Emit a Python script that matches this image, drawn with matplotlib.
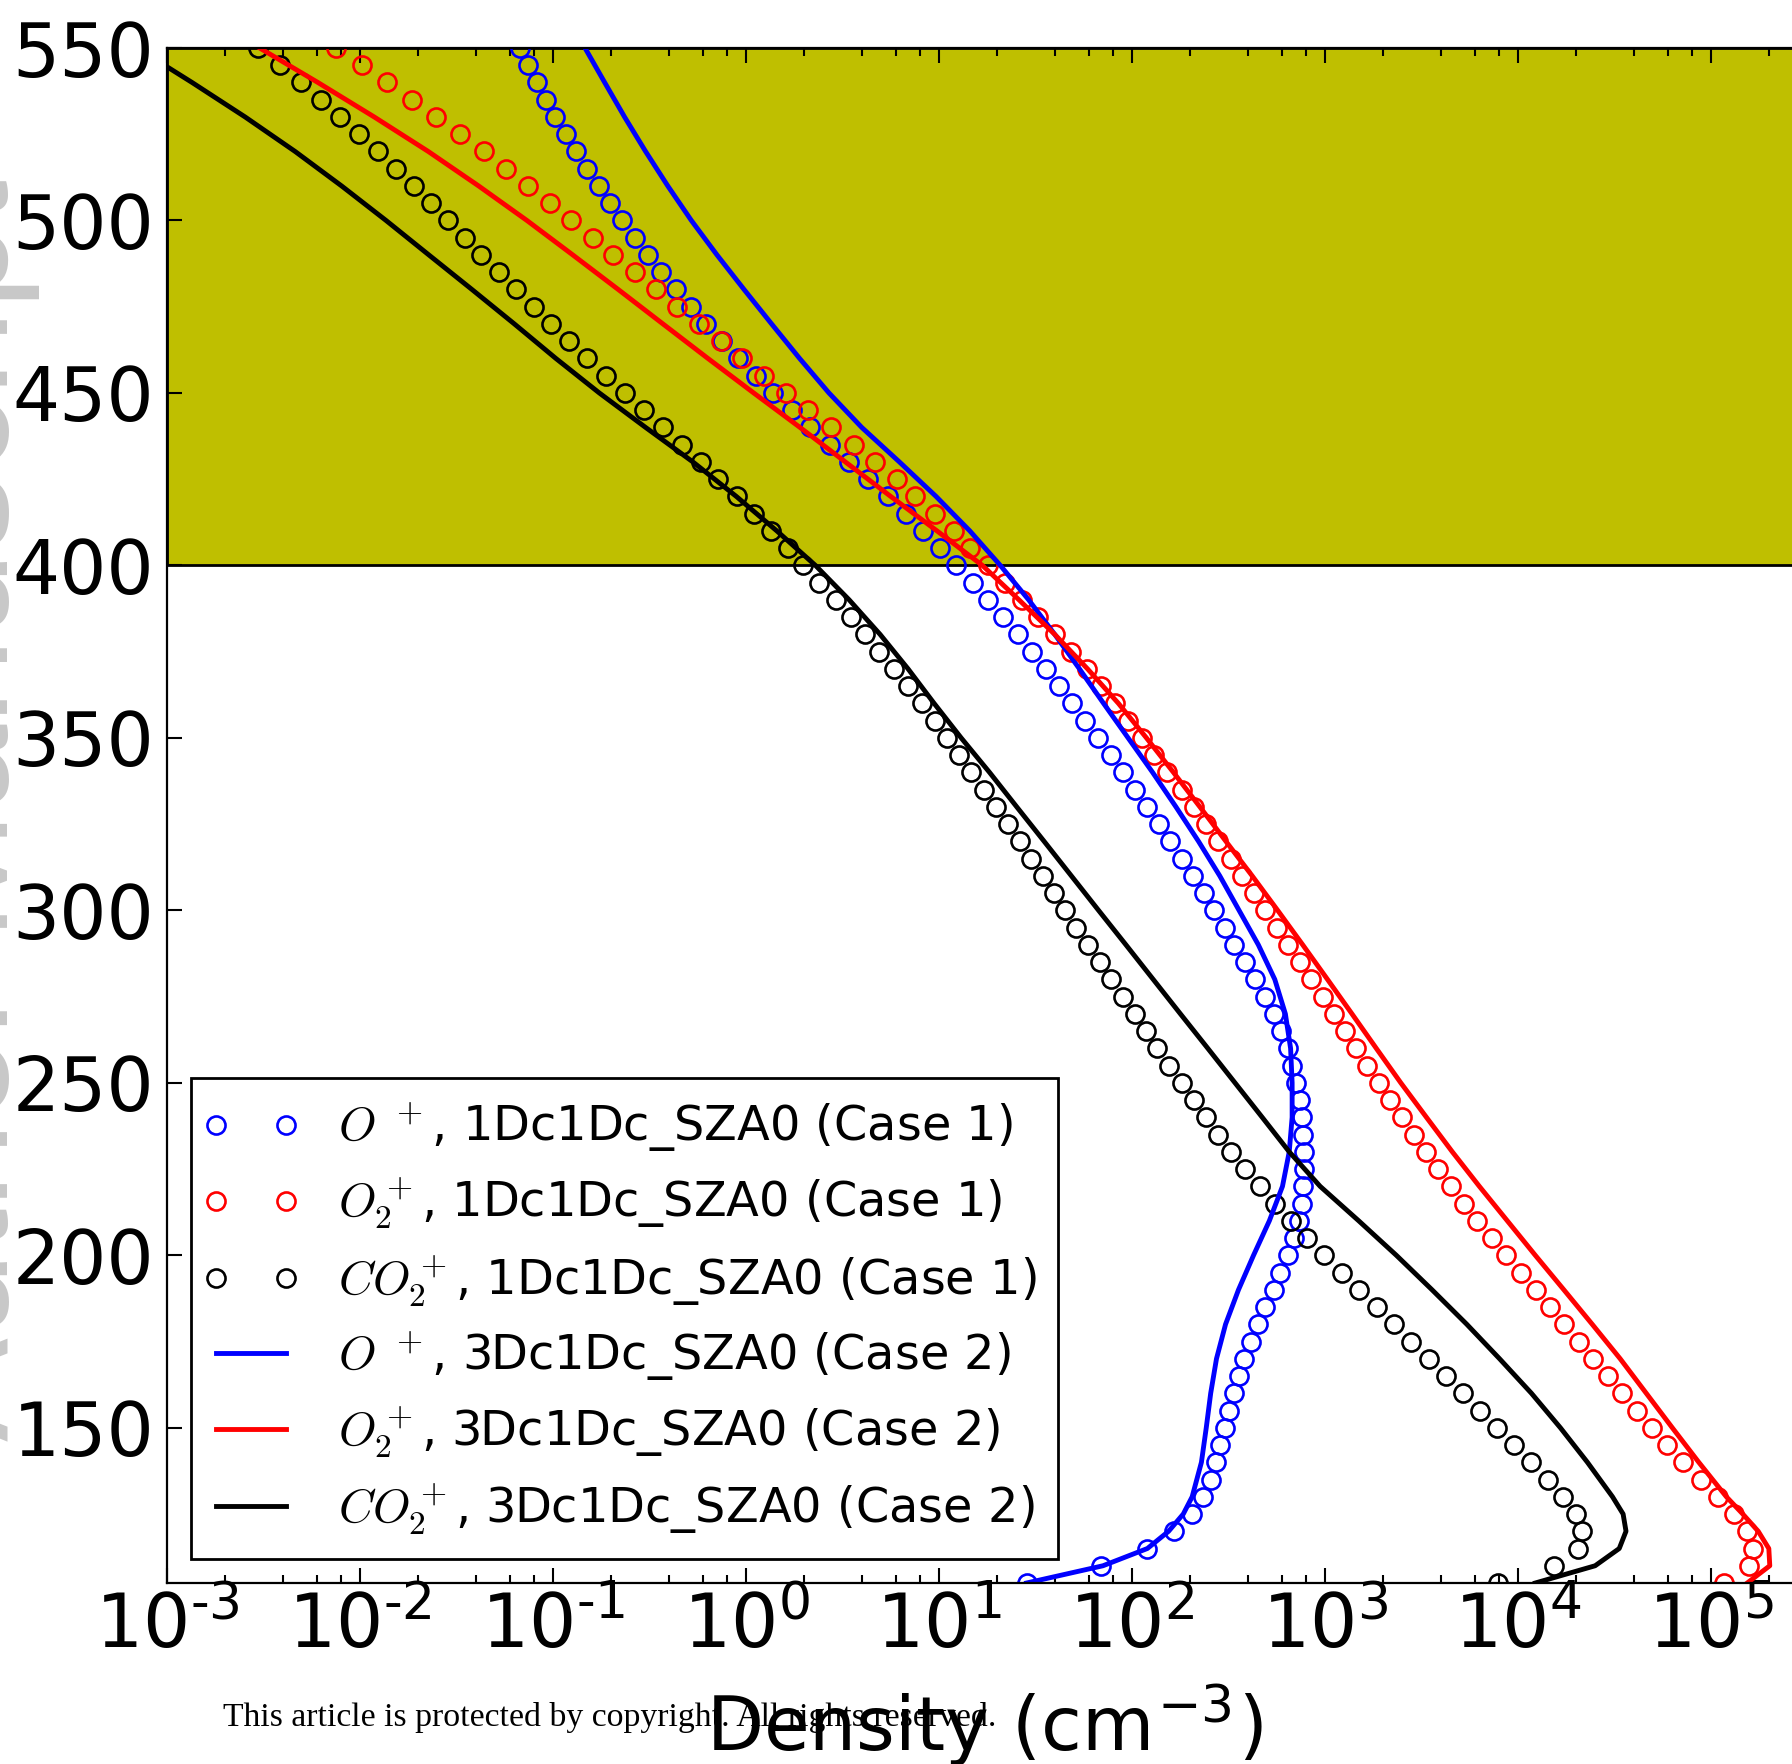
import matplotlib
matplotlib.use('Agg')
import matplotlib.pyplot as plt
import numpy as np
from matplotlib.ticker import NullLocator, LogLocator, FuncFormatter
from matplotlib.legend_handler import HandlerLine2D

plt.rcParams['font.family'] = 'DejaVu Sans'
plt.rcParams['mathtext.fontset'] = 'cm'

# altitude grid of the 1D model output (km)
alt_1d = np.arange(550, 100, -5)

# Case 1 (1Dc1Dc_SZA0): log10 of ion density in cm^-3, from 550 km down to 105 km
logn_op_1d = [
    -1.169, -1.127, -1.083, -1.036, -0.987, -0.934, -0.879, -0.822, -0.763, -0.704,
    -0.640, -0.575, -0.507, -0.439, -0.363, -0.287, -0.207, -0.124, -0.039, 0.050,
    0.140, 0.237, 0.333, 0.438, 0.534, 0.633, 0.735, 0.830, 0.919, 1.005,
    1.090, 1.175, 1.255, 1.331, 1.407, 1.481, 1.555, 1.623, 1.690, 1.758,
    1.824, 1.889, 1.955, 2.016, 2.079, 2.139, 2.198, 2.257, 2.314, 2.371,
    2.425, 2.480, 2.531, 2.585, 2.636, 2.688, 2.735, 2.770, 2.806, 2.829,
    2.852, 2.870, 2.880, 2.886, 2.891, 2.891, 2.886, 2.880, 2.863, 2.840,
    2.806, 2.765, 2.735, 2.692, 2.655, 2.618, 2.580, 2.555, 2.530, 2.502,
    2.480, 2.456, 2.434, 2.408, 2.368, 2.313, 2.218, 2.076, 1.839, 1.454,
]
logn_o2p_1d = [
    -2.123, -1.992, -1.861, -1.732, -1.605, -1.480, -1.360, -1.241, -1.127, -1.017,
    -0.905, -0.795, -0.687, -0.577, -0.465, -0.355, -0.241, -0.129, -0.023, 0.096,
    0.210, 0.322, 0.443, 0.561, 0.671, 0.781, 0.878, 0.978, 1.077, 1.162,
    1.253, 1.344, 1.432, 1.513, 1.600, 1.685, 1.765, 1.840, 1.910, 1.980,
    2.050, 2.113, 2.183, 2.257, 2.321, 2.384, 2.448, 2.511, 2.570, 2.634,
    2.691, 2.750, 2.810, 2.869, 2.928, 2.988, 3.046, 3.103, 3.161, 3.220,
    3.279, 3.339, 3.401, 3.462, 3.526, 3.588, 3.652, 3.721, 3.789, 3.865,
    3.938, 4.018, 4.093, 4.166, 4.240, 4.316, 4.390, 4.465, 4.539, 4.615,
    4.694, 4.775, 4.856, 4.947, 5.035, 5.122, 5.188, 5.217, 5.198, 5.067,
]
logn_co2p_1d = [
    -2.527, -2.416, -2.308, -2.203, -2.104, -2.003, -1.906, -1.814, -1.722, -1.634,
    -1.544, -1.458, -1.371, -1.282, -1.191, -1.100, -1.008, -0.918, -0.823, -0.727,
    -0.629, -0.530, -0.430, -0.334, -0.231, -0.143, -0.048, 0.041, 0.132, 0.217,
    0.295, 0.381, 0.466, 0.544, 0.618, 0.688, 0.766, 0.840, 0.910, 0.978,
    1.041, 1.105, 1.168, 1.232, 1.295, 1.359, 1.422, 1.479, 1.538, 1.597,
    1.654, 1.711, 1.771, 1.832, 1.892, 1.953, 2.014, 2.073, 2.131, 2.193,
    2.257, 2.319, 2.383, 2.447, 2.515, 2.584, 2.662, 2.742, 2.822, 2.909,
    2.996, 3.087, 3.179, 3.269, 3.360, 3.447, 3.537, 3.627, 3.715, 3.805,
    3.892, 3.980, 4.070, 4.155, 4.236, 4.299, 4.332, 4.312, 4.185, 3.897,
]

# Case 2 (3Dc1Dc_SZA0): altitude (km) and log10 density
alt_3d = [550, 540, 530, 520, 510, 500, 490, 480, 470, 460,
          450, 440, 430, 420, 410, 400, 390, 380, 370, 360,
          350, 340, 330, 320, 310, 300, 290, 280, 270, 260,
          250, 240, 230, 220, 210, 200, 190, 180, 170, 160,
          150, 140, 130, 125, 120, 115, 110, 105]
logn_op_3d = [-0.834, -0.732, -0.629, -0.520, -0.405, -0.283, -0.150, -0.010, 0.133, 0.278,
              0.430, 0.600, 0.795, 0.985, 1.160, 1.318, 1.465, 1.600, 1.728, 1.853,
              1.980, 2.107, 2.228, 2.345, 2.455, 2.555, 2.655, 2.740, 2.795, 2.822,
              2.830, 2.830, 2.815, 2.780, 2.712, 2.630, 2.552, 2.485, 2.438, 2.408,
              2.385, 2.360, 2.312, 2.266, 2.190, 2.080, 1.850, 1.454]
logn_o2p_3d = [-2.520, -2.218, -1.926, -1.646, -1.385, -1.135, -0.897, -0.662, -0.430, -0.197,
               0.040, 0.280, 0.515, 0.750, 0.990, 1.225, 1.415, 1.600, 1.770, 1.930,
               2.075, 2.215, 2.352, 2.487, 2.623, 2.755, 2.885, 3.013, 3.140, 3.266,
               3.393, 3.526, 3.660, 3.800, 3.945, 4.090, 4.238, 4.385, 4.530, 4.665,
               4.800, 4.937, 5.080, 5.165, 5.245, 5.300, 5.305, 5.188]
logn_co2p_3d = [-3.155, -2.870, -2.595, -2.336, -2.095, -1.865, -1.643, -1.420, -1.200, -0.985,
                -0.760, -0.520, -0.275, -0.050, 0.160, 0.360, 0.535, 0.695, 0.840, 0.975,
                1.115, 1.262, 1.403, 1.545, 1.686, 1.827, 1.969, 2.110, 2.251, 2.393,
                2.534, 2.675, 2.815, 2.975, 3.175, 3.370, 3.555, 3.735, 3.905, 4.070,
                4.220, 4.360, 4.490, 4.545, 4.560, 4.525, 4.400, 4.090]

labels_1d = [r'$O\ ^+$, 1Dc1Dc_SZA0 (Case 1)',
             r'$O_2^+$, 1Dc1Dc_SZA0 (Case 1)',
             r'$CO_2^+$, 1Dc1Dc_SZA0 (Case 1)']
labels_3d = [r'$O\ ^+$, 3Dc1Dc_SZA0 (Case 2)',
             r'$O_2^+$, 3Dc1Dc_SZA0 (Case 2)',
             r'$CO_2^+$, 3Dc1Dc_SZA0 (Case 2)']
colors = ['b', 'r', 'k']

fig = plt.figure(figsize=(17.92, 17.64), dpi=100)
ax = fig.add_axes([167 / 1792, 181 / 1764, 1636 / 1792, 1535 / 1764])

# shaded upper region
ax.axhspan(400, 550, facecolor=(0.75, 0.75, 0.0), edgecolor='k', linewidth=2.0, zorder=0)

for logn, c, lab in zip([logn_op_1d, logn_o2p_1d, logn_co2p_1d], colors, labels_1d):
    ax.plot(10 ** np.array(logn), alt_1d, 'o', mfc='none', mec=c, ms=13, mew=1.9, label=lab)

for logn, c, lab in zip([logn_op_3d, logn_o2p_3d, logn_co2p_3d], colors, labels_3d):
    ax.plot(10 ** np.array(logn), alt_3d, '-', color=c, lw=3.5, label=lab)

ax.set_xscale('log')
ax.set_xlim(1e-3, 3e5)
ax.set_ylim(105, 550)
ax.set_yticks(np.arange(150, 551, 50))
ax.yaxis.set_minor_locator(NullLocator())
ax.xaxis.set_major_locator(LogLocator(base=10, numticks=20))
ax.xaxis.set_minor_locator(LogLocator(base=10, subs=[2, 4, 6, 8], numticks=20))


def decade_label(x, pos):
    e = int(round(np.log10(x)))
    s = str(e) if e >= 0 else '\u2010' + str(-e)
    return r'$\mathregular{10^{%s}}$' % s


ax.xaxis.set_major_formatter(FuncFormatter(decade_label))

ax.tick_params(which='both', direction='in', top=True, right=False, width=1.5)
ax.tick_params(which='major', length=11, labelsize=53.5)
ax.tick_params(which='minor', length=6)
ax.tick_params(axis='y', pad=9)
ax.tick_params(axis='x', pad=6)
for sp in ax.spines.values():
    sp.set_linewidth(1.6)

ax.set_xlabel(r'Density (cm$^{\mathregular{-3}}$)', fontsize=53.5, labelpad=12)

leg = ax.legend(loc='lower left', fontsize=34.5, numpoints=2, handlelength=1.6,
                handletextpad=1.0, labelspacing=0.42, borderpad=0.46,
                borderaxespad=0.5, fancybox=False, framealpha=1,
                handler_map={matplotlib.lines.Line2D: HandlerLine2D(marker_pad=0.07)})
leg.get_frame().set_edgecolor('k')
leg.get_frame().set_linewidth(2)

fig.text(40 / 1792, 1 - 810 / 1764, 'Author Manuscript', rotation=90, color='#c8c8c8',
         fontsize=112, family='Liberation Sans', ha='right', va='center')
fig.text(223 / 1792, 1 - 1726 / 1764,
         'This article is protected by copyright. All rights reserved.',
         family='Liberation Serif', fontsize=24.3, va='baseline')

fig.savefig('out.png', dpi=100)
